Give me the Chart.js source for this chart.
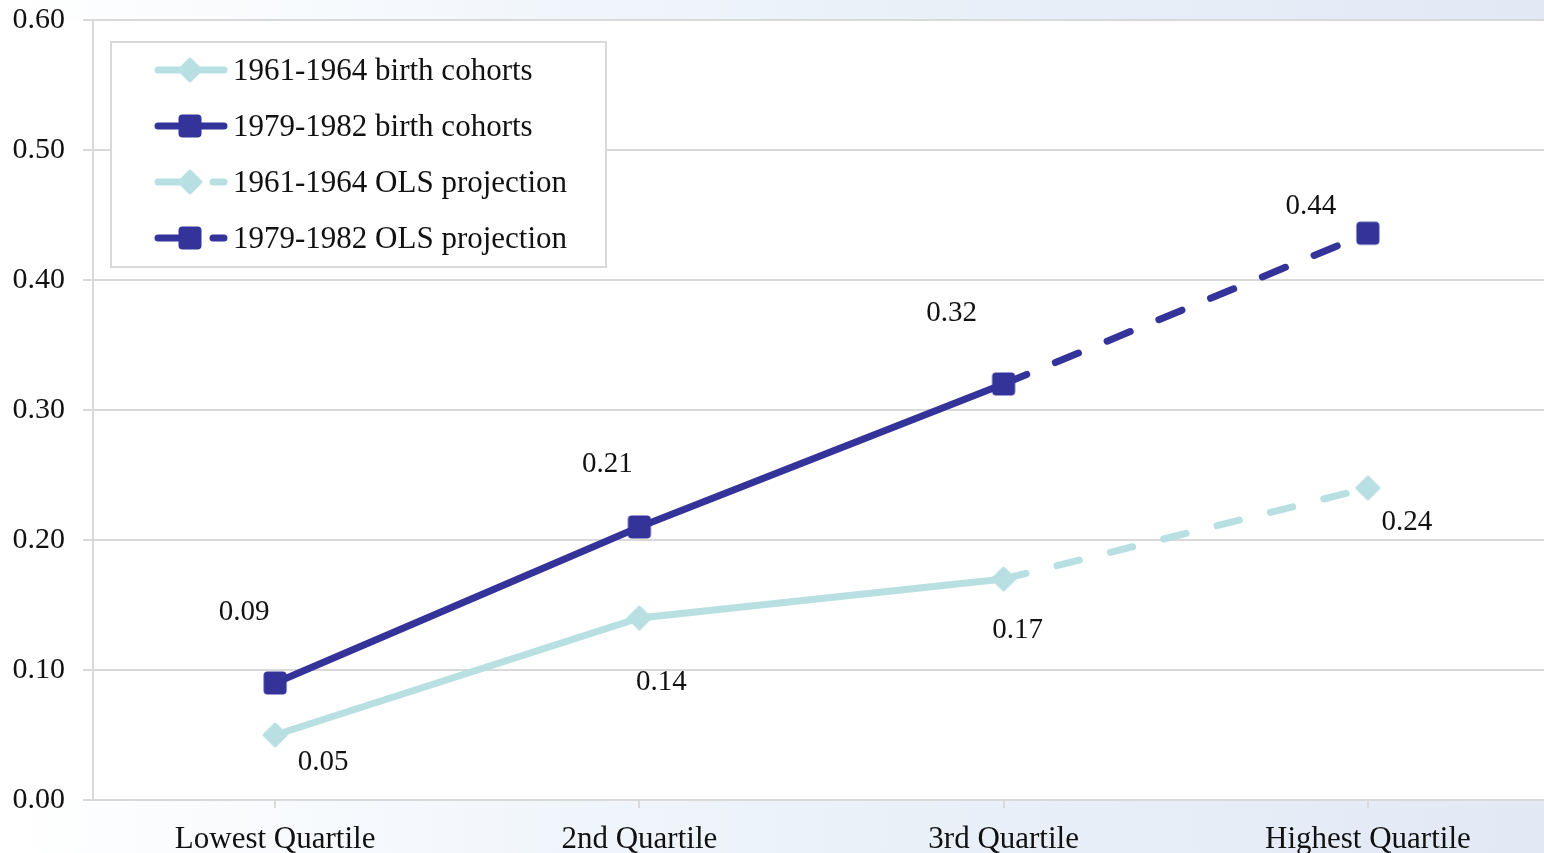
<!DOCTYPE html>
<html lang="en">
<head>
  <meta charset="UTF-8">
  <title>Quartile projection</title>
  <script src="https://cdn.jsdelivr.net/npm/chart.js"></script>
  <style>
    html, body { margin: 0; padding: 0; background: #fff; overflow: hidden; }
    #chart { display: block; }
  </style>
</head>
<body>
  <canvas id="chart" width="1550" height="853"></canvas>
  <script>
  // data
  const categories = ['Lowest Quartile', '2nd Quartile', '3rd Quartile', 'Highest Quartile'];
  const cohort1961 = [0.05, 0.14, 0.17, null];
  const cohort1979 = [0.09, 0.21, 0.32, null];
  const proj1961 = [null, null, 0.17, 0.24];
  const proj1979 = [null, null, 0.32, 0.436];
  const yTicks = [0, 0.1, 0.2, 0.3, 0.4, 0.5, 0.6];

  const LIGHT = '#B8DFE2';
  const DARK = '#333399';
  const FONT = '"Liberation Serif", "DejaVu Serif", serif';

  // label offsets (px) from each point
  const lightOffsets = [[48, 27], [22, 64], [14, 51], [39, 34]];
  const darkOffsets = [[-31, -71], [-32, -63], [-52, -71], [-57, -27]];

  // marker images
  function squareMarker() {
    const c = document.createElement('canvas');
    c.width = 26; c.height = 26;
    const g = c.getContext('2d');
    g.fillStyle = DARK;
    g.beginPath();
    g.roundRect(1.5, 1.5, 23, 23, 4);
    g.fill();
    return c;
  }
  function diamondMarker() {
    const c = document.createElement('canvas');
    c.width = 26; c.height = 26;
    const g = c.getContext('2d');
    g.fillStyle = LIGHT;
    g.strokeStyle = LIGHT;
    g.lineWidth = 3;
    g.lineJoin = 'round';
    g.beginPath();
    g.moveTo(13, 2); g.lineTo(24, 13); g.lineTo(13, 24); g.lineTo(2, 13);
    g.closePath();
    g.fill(); g.stroke();
    return c;
  }
  const sq = squareMarker();
  const dm = diamondMarker();

  const bgPlugin = {
    id: 'bg',
    beforeDraw(chart) {
      const { ctx, width, height, chartArea: a } = chart;
      ctx.save();
      const grd = ctx.createLinearGradient(0, 0, width, 0);
      grd.addColorStop(0, '#ffffff');
      grd.addColorStop(0.55, '#EAF1F9');
      grd.addColorStop(1, '#E2E9F5');
      ctx.fillStyle = grd;
      ctx.fillRect(0, 0, width, height);
      ctx.fillStyle = '#ffffff';
      ctx.fillRect(0, a.top, a.right, a.bottom - a.top);
      ctx.restore();
    }
  };

  const labelPlugin = {
    id: 'pointLabels',
    afterDatasetsDraw(chart) {
      const { ctx, scales: { x, y } } = chart;
      const light = cohort1961.map((v, i) => v ?? proj1961[i]);
      const dark = cohort1979.map((v, i) => v ?? proj1979[i]);
      ctx.save();
      ctx.font = '29px ' + FONT;
      ctx.fillStyle = '#111';
      ctx.textAlign = 'center';
      ctx.textBaseline = 'middle';
      light.forEach((v, i) => {
        ctx.fillText(v.toFixed(2), x.getPixelForValue(i) + lightOffsets[i][0], y.getPixelForValue(v) + lightOffsets[i][1]);
      });
      dark.forEach((v, i) => {
        ctx.fillText(v.toFixed(2), x.getPixelForValue(i) + darkOffsets[i][0], y.getPixelForValue(v) + darkOffsets[i][1]);
      });
      ctx.restore();
    }
  };

  // legend drawn by hand: line + marker (+ dash for projections)
  const legendPlugin = {
    id: 'customLegend',
    afterDraw(chart) {
      const { ctx } = chart;
      const items = [
        { text: '1961-1964 birth cohorts', color: LIGHT, img: dm, dashed: false },
        { text: '1979-1982 birth cohorts', color: DARK, img: sq, dashed: false },
        { text: '1961-1964 OLS projection', color: LIGHT, img: dm, dashed: true },
        { text: '1979-1982 OLS projection', color: DARK, img: sq, dashed: true }
      ];
      ctx.save();
      ctx.fillStyle = '#ffffff';
      ctx.fillRect(111, 42, 495, 225);
      ctx.strokeStyle = '#d9d9d9';
      ctx.lineWidth = 2;
      ctx.strokeRect(111, 42, 495, 225);
      items.forEach((it, i) => {
        const yy = 70 + i * 56;
        ctx.strokeStyle = it.color;
        ctx.lineWidth = 7;
        ctx.lineCap = 'round';
        ctx.beginPath();
        if (it.dashed) {
          ctx.moveTo(158, yy); ctx.lineTo(196, yy);
          ctx.moveTo(213, yy); ctx.lineTo(224, yy);
        } else {
          ctx.moveTo(158, yy); ctx.lineTo(224, yy);
        }
        ctx.stroke();
        ctx.drawImage(it.img, 190 - 13, yy - 13);
        ctx.font = '31px ' + FONT;
        ctx.fillStyle = '#111';
        ctx.textBaseline = 'middle';
        ctx.fillText(it.text, 233, yy + 2);
      });
      ctx.restore();
    }
  };

  new Chart(document.getElementById('chart'), {
    type: 'line',
    data: {
      labels: categories,
      datasets: [
        {
          label: '1961-1964 OLS projection',
          data: proj1961,
          borderColor: LIGHT,
          borderWidth: 7,
          borderDash: [23, 32],
          borderCapStyle: 'round',
          pointStyle: dm,
          pointRadius: [0, 0, 0, 10],
          spanGaps: false
        },
        {
          label: '1979-1982 OLS projection',
          data: proj1979,
          borderColor: DARK,
          borderWidth: 7,
          borderDash: [25, 31],
          borderCapStyle: 'round',
          pointStyle: sq,
          pointRadius: [0, 0, 0, 10],
          spanGaps: false
        },
        {
          label: '1961-1964 birth cohorts',
          data: cohort1961,
          borderColor: LIGHT,
          borderWidth: 7,
          borderCapStyle: 'round',
          pointStyle: dm,
          pointRadius: 10
        },
        {
          label: '1979-1982 birth cohorts',
          data: cohort1979,
          borderColor: DARK,
          borderWidth: 7,
          borderCapStyle: 'round',
          pointStyle: sq,
          pointRadius: 10
        }
      ]
    },
    options: {
      responsive: false,
      animation: false,
      devicePixelRatio: 1,
      events: [],
      layout: { autoPadding: false, padding: { top: 20, right: 0, left: 0, bottom: 0 } },
      plugins: {
        legend: { display: false },
        tooltip: { enabled: false }
      },
      scales: {
        x: {
          offset: true,
          grid: { display: true, drawOnChartArea: false, offset: false, color: '#d9d9d9', lineWidth: 2, tickLength: 8 },
          border: { color: '#d9d9d9', width: 2 },
          ticks: { color: '#111', font: { family: FONT, size: 31 }, padding: 13, maxRotation: 0 },
          afterFit(s) { s.height = 53; s.paddingLeft = 0; s.paddingRight = 0; }
        },
        y: {
          min: 0,
          max: 0.6,
          afterBuildTicks(s) { s.ticks = yTicks.map(v => ({ value: v })); },
          grid: { color: '#d9d9d9', lineWidth: 2, tickLength: 10 },
          border: { color: '#d9d9d9', width: 2 },
          ticks: {
            color: '#111',
            font: { family: FONT, size: 30 },
            padding: 18,
            callback: v => Number(v).toFixed(2)
          },
          afterFit(s) { s.width = 93; s.paddingTop = 0; s.paddingBottom = 0; }
        }
      }
    },
    plugins: [bgPlugin, labelPlugin, legendPlugin]
  });
  </script>
</body>
</html>
